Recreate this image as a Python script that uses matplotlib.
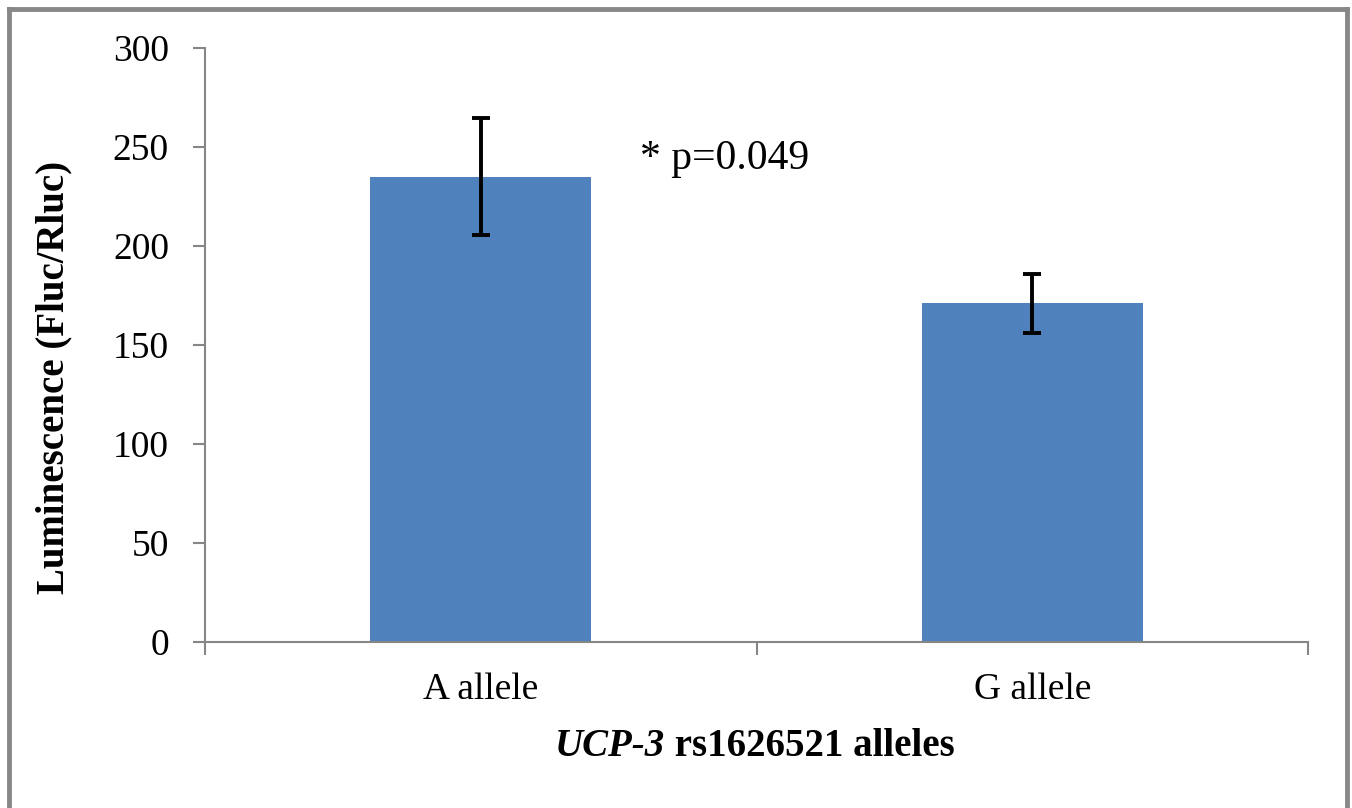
import numpy as np
import matplotlib
matplotlib.use("Agg")
import matplotlib.pyplot as plt

# data
categories = ["A allele", "G allele"]
means = [235, 171]
errors = [29.5, 15]
yticks = [0, 50, 100, 150, 200, 250, 300]
p_text = "* p=0.049"

BLUE = "#4F81BD"
GREY = "#868686"
SERIF = "Liberation Serif"

fig = plt.figure(figsize=(13.52, 8.08), dpi=100)
ax = fig.add_axes([205 / 1352, 1 - 642 / 808, (1308 - 205) / 1352, (642 - 48) / 808])

x = np.arange(len(categories))
ax.bar(x, means, width=0.4, color=BLUE, zorder=2)
ax.errorbar(x, means, yerr=errors, fmt="none", ecolor="black",
            elinewidth=2.8, capsize=6.5, capthick=2.8, zorder=3)

ax.set_xlim(-0.5, len(categories) - 0.5)
ax.set_ylim(0, 300)
ax.set_yticks(yticks)
ax.set_yticklabels([str(v) for v in yticks], fontsize=27, family=SERIF)

# category labels between boundary ticks
ax.set_xticks(np.arange(-0.5, len(categories)))
ax.set_xticklabels([])
ax.set_xticks(x, minor=True)
ax.set_xticklabels(categories, minor=True, fontsize=27, family=SERIF)
ax.tick_params(axis="x", which="minor", length=0, pad=22)
ax.tick_params(axis="x", which="major", length=9, width=1.5, color=GREY, direction="out")
ax.tick_params(axis="y", length=9, width=1.5, color=GREY, direction="out", pad=17)

for side in ["top", "right"]:
    ax.spines[side].set_visible(False)
for side in ["left", "bottom"]:
    ax.spines[side].set_color(GREY)
    ax.spines[side].set_linewidth(1.5)

ax.set_ylabel("Luminescence (Fluc/Rluc)", fontsize=28, family=SERIF,
              fontweight="bold")
ax.yaxis.set_label_coords(-0.120, 0.445)

ax.text(0.289, 244, p_text, fontsize=30, family=SERIF, va="center", ha="left")

# x label: italic gene name followed by upright text
t1 = fig.text(0, 1 - 746 / 808, "UCP-3", fontsize=28, family=SERIF,
              fontweight="bold", style="italic", va="center", ha="left")
t2 = fig.text(0, 1 - 746 / 808, " rs1626521 alleles", fontsize=28, family=SERIF,
              fontweight="bold", va="center", ha="left")
fig.canvas.draw()
r = fig.canvas.get_renderer()
w1 = t1.get_window_extent(r).width
w2 = t2.get_window_extent(r).width
left = 755 - (w1 + w2) / 2
t1.set_x(left / 1352)
t2.set_x((left + w1) / 1352)

# frame around the figure (open at the bottom)
frame = dict(transform=fig.transFigure, color="#888888", lw=3.5)
fig.add_artist(plt.Line2D([8.5 / 1352, 8.5 / 1352], [0, 1 - 8.5 / 808], **frame))
fig.add_artist(plt.Line2D([8.5 / 1352, 1347 / 1352], [1 - 8.5 / 808, 1 - 8.5 / 808], **frame))
fig.add_artist(plt.Line2D([1347 / 1352, 1347 / 1352], [0, 1 - 8.5 / 808], **frame))

fig.savefig("out.png", dpi=100)
